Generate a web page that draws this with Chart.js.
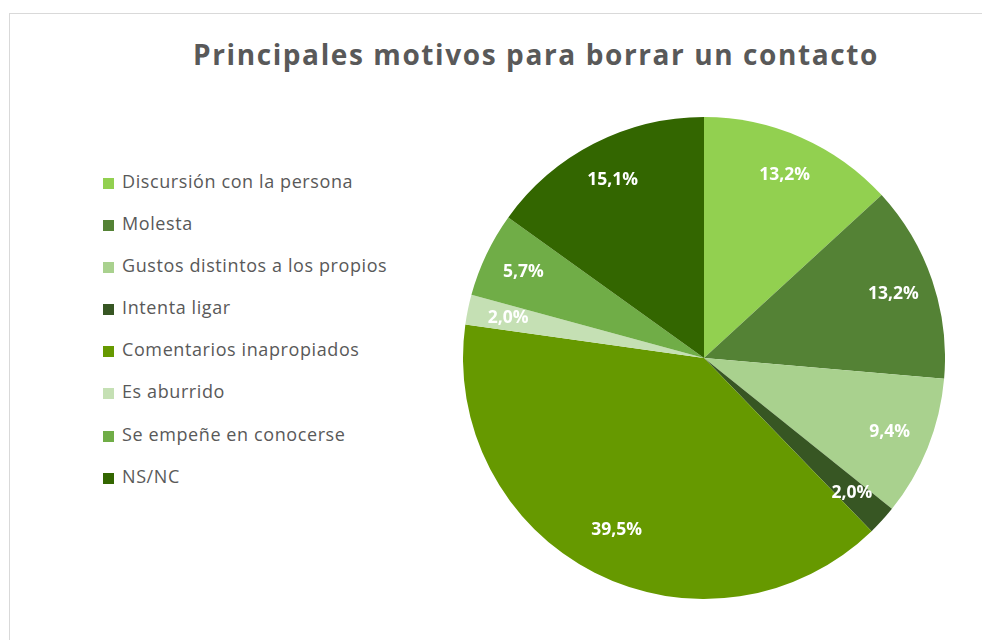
<!DOCTYPE html>
<html lang="es">
  <head>
    <meta charset="utf-8">
    <title>Principales motivos para borrar un contacto</title>
    <style>
      html, body { margin: 0; padding: 0; background: #fff; overflow: hidden; }
      #frame { position: absolute; left: 9px; top: 13px; width: 1100px; height: 700px;
               border: 1px solid #d9d9d9; box-sizing: border-box; }
      #title { position: absolute; left: 0; width: 1052px; top: 21px; margin: 0; text-align: center;
               font: 700 28px "Open Sans", sans-serif; color: #595959; letter-spacing: 1.6px; }
      #legend { position: absolute; left: 93px; top: 154px; margin: 0; padding: 0; list-style: none;
                font: 18px "Open Sans", sans-serif; color: #595959; letter-spacing: 0.6px; }
      #legend li { height: 42.1px; line-height: 26px; white-space: nowrap; }
      #legend span { display: inline-block; width: 11px; height: 11px; margin-right: 8px; vertical-align: -1px; }
      #pie { position: absolute; left: 453px; top: 103px; }
    </style>
  </head>
  <body>
    <div id="frame">
      <h1 id="title">Principales motivos para borrar un contacto</h1>
      <ul id="legend"></ul>
      <div id="pie" style="width:482px;height:482px"><canvas id="pie-chart"></canvas></div>
    </div>

    <script src="https://cdn.jsdelivr.net/npm/chart.js@4/dist/chart.umd.min.js"></script>
    <script>
    const categories = ['Discursión con la persona', 'Molesta', 'Gustos distintos a los propios',
      'Intenta ligar', 'Comentarios inapropiados', 'Es aburrido', 'Se empeñe en conocerse', 'NS/NC'];
    const percentages = [13.2, 13.2, 9.4, 2.0, 39.5, 2.0, 5.7, 15.1];
    const colors = ['#92D050', '#548235', '#A9D18E', '#375623', '#669900', '#C5E0B4', '#70AD47', '#336600'];

    // legend in html
    const ul = document.getElementById('legend');
    categories.forEach((c, i) => {
      const li = document.createElement('li');
      li.innerHTML = '<span style="background:' + colors[i] + '"></span>' + c;
      ul.appendChild(li);
    });

    // white % labels inside the slices
    const sliceLabels = {
      id: 'sliceLabels',
      afterDatasetsDraw(chart) {
        const ctx = chart.ctx;
        const meta = chart.getDatasetMeta(0);
        ctx.save();
        ctx.fillStyle = '#fff';
        ctx.font = 'bold 17.5px "Open Sans", sans-serif';
        ctx.textAlign = 'center';
        ctx.textBaseline = 'middle';
        meta.data.forEach((arc, i) => {
          const p = arc.getProps(['x', 'y', 'startAngle', 'endAngle', 'outerRadius'], true);
          const a = (p.startAngle + p.endAngle) / 2;
          // the big slice label sits a bit further in, like excel's best fit
          const r = p.outerRadius * (percentages[i] > 30 ? 0.8 : 0.83);
          const txt = percentages[i].toFixed(1).replace('.', ',') + '%';
          ctx.fillText(txt, p.x + Math.cos(a) * r, p.y + Math.sin(a) * r);
        });
        ctx.restore();
      }
    };

    new Chart(document.getElementById('pie-chart'), {
      type: 'pie',
      data: {
        labels: categories,
        datasets: [{ data: percentages, backgroundColor: colors, borderWidth: 0, hoverOffset: 0 }]
      },
      options: {
        responsive: true,
        maintainAspectRatio: false,
        animation: false,
        layout: { padding: 0 },
        plugins: { legend: { display: false }, tooltip: { enabled: false } }
      },
      plugins: [sliceLabels]
    });
    </script>
  </body>
</html>
